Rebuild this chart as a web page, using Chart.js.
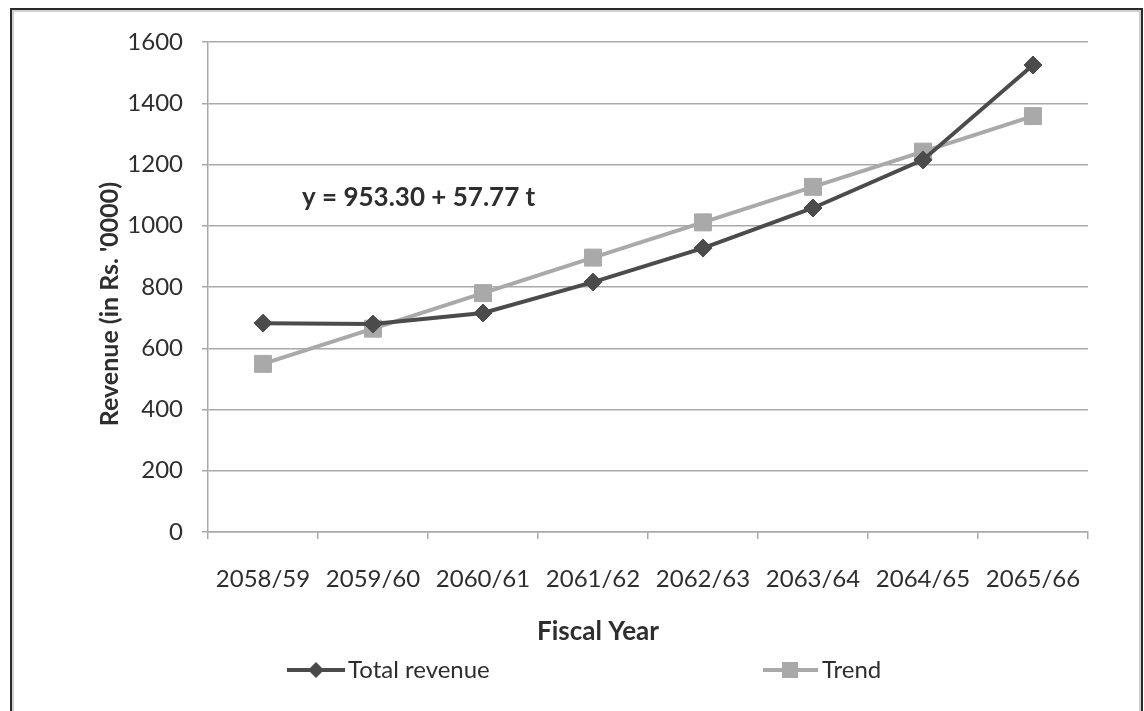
<!DOCTYPE html>
<html>
<head>
<meta charset="utf-8">
<script src="https://cdn.jsdelivr.net/npm/chart.js@4/dist/chart.umd.min.js"></script>
<style>
    html, body {
        margin: 0;
        padding: 0;
        background: #ffffff;
        overflow: hidden;
    }
    #frame {
        position: absolute;
        left: 10px;
        top: 8px;
        width: 1129px;
        height: 720px;
        border: 2px solid #2a2a2a;
        box-shadow: inset 2px 2px 0 #d0d0d0, inset -2px 0 0 #d0d0d0;
    }
    #revenueChart {
        position: absolute;
        left: 0;
        top: 0;
    }
</style>
</head>
<body>
<div id="frame"></div>
<canvas id="revenueChart" width="1144" height="711"></canvas>

<script>
const fiscalYears = ['2058/59', '2059/60', '2060/61', '2061/62', '2062/63', '2063/64', '2064/65', '2065/66'];
const totalRevenue = [682, 679, 715, 816, 927, 1058, 1215, 1525];
const trendValues = [549, 664, 780, 896, 1011, 1127, 1242, 1358];
const yTicks = [0, 200, 400, 600, 800, 1000, 1200, 1400, 1600];

const DARK = '#4b4b4b';
const LIGHT = '#a9a9a9';
const TEXT = '#2e2e2e';
const FONT = 'Lato, "Open Sans", sans-serif';

// axis titles, regression equation and legend drawn on top of the chart
const chartText = {
    id: 'chartText',
    afterDraw(chart) {
        const ctx = chart.ctx;
        ctx.save();
        ctx.fillStyle = TEXT;
        ctx.textBaseline = 'middle';

        ctx.font = 'bold 26px ' + FONT;
        ctx.textAlign = 'left';
        ctx.fillText('y = 953.30 + 57.77 t', 302, 198);

        ctx.textAlign = 'center';
        ctx.fillText('Fiscal Year', 598, 632);

        ctx.save();
        ctx.translate(110, 304);
        ctx.rotate(-Math.PI / 2);
        ctx.font = 'bold 25px ' + FONT;
        ctx.fillText("Revenue (in Rs. '0000)", 0, 0);
        ctx.restore();

        // legend
        ctx.font = '24px ' + FONT;
        ctx.textAlign = 'left';

        ctx.strokeStyle = DARK;
        ctx.lineWidth = 4;
        ctx.beginPath();
        ctx.moveTo(287, 670);
        ctx.lineTo(345, 670);
        ctx.stroke();
        ctx.fillStyle = DARK;
        ctx.beginPath();
        ctx.moveTo(316, 662);
        ctx.lineTo(324, 670);
        ctx.lineTo(316, 678);
        ctx.lineTo(308, 670);
        ctx.closePath();
        ctx.fill();
        ctx.fillStyle = TEXT;
        ctx.fillText('Total revenue', 348, 670);

        ctx.strokeStyle = LIGHT;
        ctx.beginPath();
        ctx.moveTo(763, 670);
        ctx.lineTo(818, 670);
        ctx.stroke();
        ctx.fillStyle = LIGHT;
        ctx.fillRect(782, 662, 16, 16);
        ctx.fillStyle = TEXT;
        ctx.fillText('Trend', 822, 670);

        ctx.restore();
    }
};

const ctx = document.getElementById('revenueChart').getContext('2d');

new Chart(ctx, {
    type: 'line',
    data: {
        labels: fiscalYears,
        datasets: [
            {
                label: 'Total revenue',
                data: totalRevenue,
                borderColor: DARK,
                backgroundColor: DARK,
                borderWidth: 4,
                pointStyle: 'rectRot',
                pointRadius: 9,
                pointBorderWidth: 1,
                tension: 0,
                order: 1
            },
            {
                label: 'Trend',
                data: trendValues,
                borderColor: LIGHT,
                backgroundColor: LIGHT,
                borderWidth: 4,
                pointStyle: 'rect',
                pointRadius: 12,
                pointBorderWidth: 1,
                tension: 0,
                order: 2
            }
        ]
    },
    options: {
        responsive: false,
        animation: false,
        layout: {
            padding: { left: 88, top: 42, right: 56, bottom: 0 }
        },
        plugins: {
            legend: { display: false },
            tooltip: { enabled: false }
        },
        scales: {
            x: {
                offset: true,
                afterFit(scale) {
                    scale.height = 179;
                },
                grid: {
                    offset: true,
                    drawOnChartArea: false,
                    drawTicks: true,
                    tickLength: 7,
                    color: LIGHT,
                    lineWidth: 1.5
                },
                border: { color: LIGHT, width: 1.5 },
                ticks: {
                    color: TEXT,
                    padding: 26,
                    maxRotation: 0,
                    font: { family: FONT, size: 24 }
                }
            },
            y: {
                min: 0,
                max: 1600,
                afterFit(scale) {
                    scale.width = 120;
                },
                afterBuildTicks(scale) {
                    scale.ticks = yTicks.map((v) => ({ value: v }));
                },
                grid: {
                    color: LIGHT,
                    lineWidth: 1.5,
                    tickLength: 6
                },
                border: { color: LIGHT, width: 1.5 },
                ticks: {
                    color: TEXT,
                    padding: 19,
                    font: { family: FONT, size: 24 },
                    callback: (value) => String(value)
                }
            }
        }
    },
    plugins: [chartText]
});
</script>
</body>
</html>
